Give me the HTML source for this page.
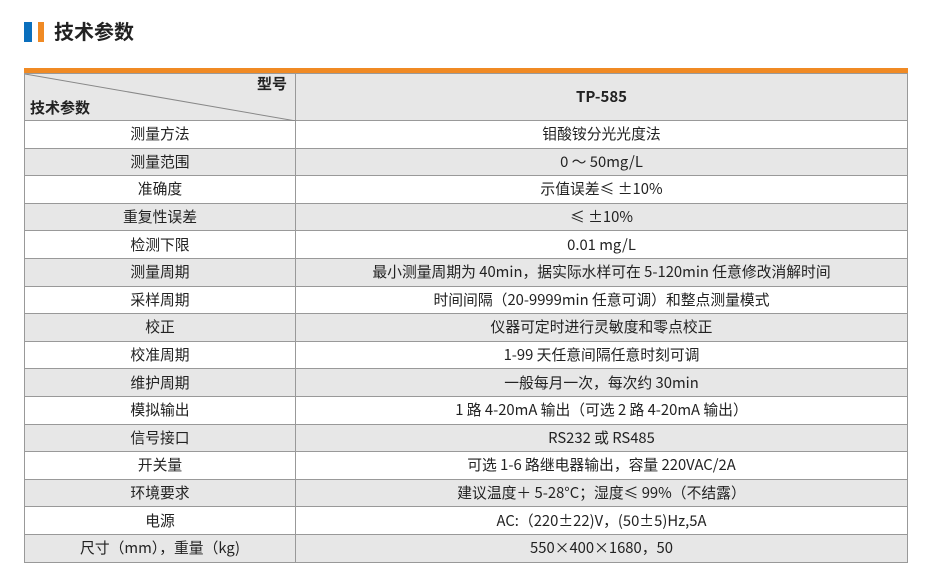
<!DOCTYPE html>
<html><head><meta charset="utf-8"><style>
body{margin:0;width:933px;height:578px;background:#fff;font-family:"Noto Sans CJK SC",sans-serif;position:relative;overflow:hidden}
.b1{position:absolute;left:24px;top:22px;width:8px;height:20px;background:#0a6fbd}
.b2{position:absolute;left:38px;top:22px;width:6px;height:20px;background:#f08a24}
.t{position:absolute;left:54px;top:17px;font-size:20px;font-weight:bold;color:#222;line-height:28px}
.ob{position:absolute;left:24px;top:68px;width:884px;height:5px;background:#f08a24}
table{position:absolute;left:24px;top:73px;width:884px;border-collapse:collapse;font-size:14.8px;color:#222}
td{border:1px solid #999;text-align:center;height:26.6px;padding:0;line-height:14px}
tr:nth-child(odd) td{background:#e7e7e7}
tr:nth-child(even) td{background:#fff}
tr.h td{height:46px;background:#e7e7e7;font-weight:bold;font-size:15px}
td.c1{width:270px}
</style></head><body>
<div class="b1"></div><div class="b2"></div><div class="t">技术参数</div>
<div class="ob"></div>
<table>
<tr class="h"><td class="c1" style="position:relative"><svg style="position:absolute;left:0;top:0" width="271" height="47"><line x1="0" y1="0" x2="271" y2="47" stroke="#888" stroke-width="1"/></svg><span style="position:absolute;right:8px;top:3px">型号</span><span style="position:absolute;left:5px;bottom:5px">技术参数</span></td><td>TP-585</td></tr>
<tr><td>测量方法</td><td>钼酸铵分光光度法</td></tr>
<tr><td>测量范围</td><td>0 ～ 50mg/L</td></tr>
<tr><td>准确度</td><td>示值误差≤ ±10%</td></tr>
<tr><td>重复性误差</td><td>≤ ±10%</td></tr>
<tr><td>检测下限</td><td>0.01 mg/L</td></tr>
<tr><td>测量周期</td><td>最小测量周期为 40min，据实际水样可在 5-120min 任意修改消解时间</td></tr>
<tr><td>采样周期</td><td>时间间隔（20-9999min 任意可调）和整点测量模式</td></tr>
<tr><td>校正</td><td>仪器可定时进行灵敏度和零点校正</td></tr>
<tr><td>校准周期</td><td>1-99 天任意间隔任意时刻可调</td></tr>
<tr><td>维护周期</td><td>一般每月一次，每次约 30min</td></tr>
<tr><td>模拟输出</td><td>1 路 4-20mA 输出（可选 2 路 4-20mA 输出）</td></tr>
<tr><td>信号接口</td><td>RS232 或 RS485</td></tr>
<tr><td>开关量</td><td>可选 1-6 路继电器输出，容量 220VAC/2A</td></tr>
<tr><td>环境要求</td><td>建议温度＋ 5-28°C；湿度≤ 99%（不结露）</td></tr>
<tr><td>电源</td><td>AC:（220±22)V，(50±5)Hz,5A</td></tr>
<tr><td>尺寸（mm），重量（kg)</td><td>550×400×1680，50</td></tr>
</table>
</body></html>
